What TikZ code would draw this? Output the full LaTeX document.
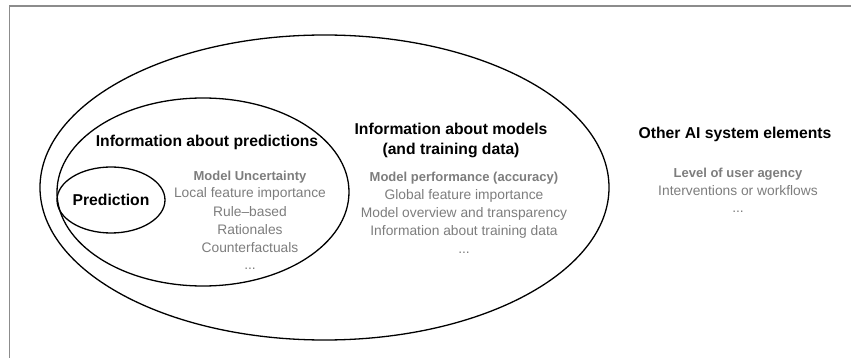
\documentclass[tikz,border=0pt]{standalone}
\usepackage{fontspec}
\setmainfont{Liberation Sans}
\usetikzlibrary{shapes.geometric}
\definecolor{itemgray}{RGB}{125,125,125}
\definecolor{framegray}{RGB}{140,140,140}
\begin{document}
\begin{tikzpicture}[x=1pt,y=-1pt,
  ring/.style={draw=black, line width=1.3pt, ellipse, inner sep=0pt},
  head/.style={font=\fontsize{15.7}{18}\selectfont\bfseries, anchor=base, inner sep=0pt},
  item/.style={font=\fontsize{13.8}{18}\selectfont, text=itemgray, anchor=base, inner sep=0pt},
  itemb/.style={font=\fontsize{13}{18}\selectfont\bfseries, text=itemgray, anchor=base, inner sep=0pt}]
\useasboundingbox (0,0) rectangle (851,358);
% frame
\coordinate (fbl) at (9.5,358);
\coordinate (ftl) at (9.5,6);
\coordinate (ftr) at (851,6);
\draw[framegray, line width=1.5pt] (fbl) -- (ftl) -- (ftr);
% ellipses
\node[ring, minimum width=569pt, minimum height=305pt] (outer) at (324.5,187.5) {};
\node[ring, minimum width=292pt, minimum height=188pt] (mid) at (203,192) {};
\node[ring, minimum width=108pt, minimum height=66pt] (pred) at (111,200) {};
% headings
\node[head] (hpred) at (207,146.6) {Information about predictions};
\node[head] (hprediction) at (111,205.6) {Prediction};
\node[head] (hmod1) at (451,135) {Information about models};
\node[head] (hmod2) at (451,155) {(and training data)};
\node[head] (hother) at (735,138.3) {Other AI system elements};
% list 1
\node[itemb] (a1) at (250,180.4) {Model Uncertainty};
\node[item] (a2) at (250,198) {Local feature importance};
\node[item] (a3) at (250,216) {Rule–based};
\node[item] (a4) at (250,234) {Rationales};
\node[item] (a5) at (250,252) {Counterfactuals};
\node[item] (a6) at (250,269) {...};
% list 2
\node[itemb] (b1) at (464,181.5) {Model performance (accuracy)};
\node[item] (b2) at (464,200) {Global feature importance};
\node[item] (b3) at (464,218) {Model overview and transparency};
\node[item] (b4) at (464,236) {Information about training data};
\node[item] (b5) at (464,253) {...};
% list 3
\node[itemb] (c1) at (738,177.5) {Level of user agency};
\node[item] (c2) at (738,196) {Interventions or workflows};
\node[item] (c3) at (738,212.5) {...};
\end{tikzpicture}
\end{document}
